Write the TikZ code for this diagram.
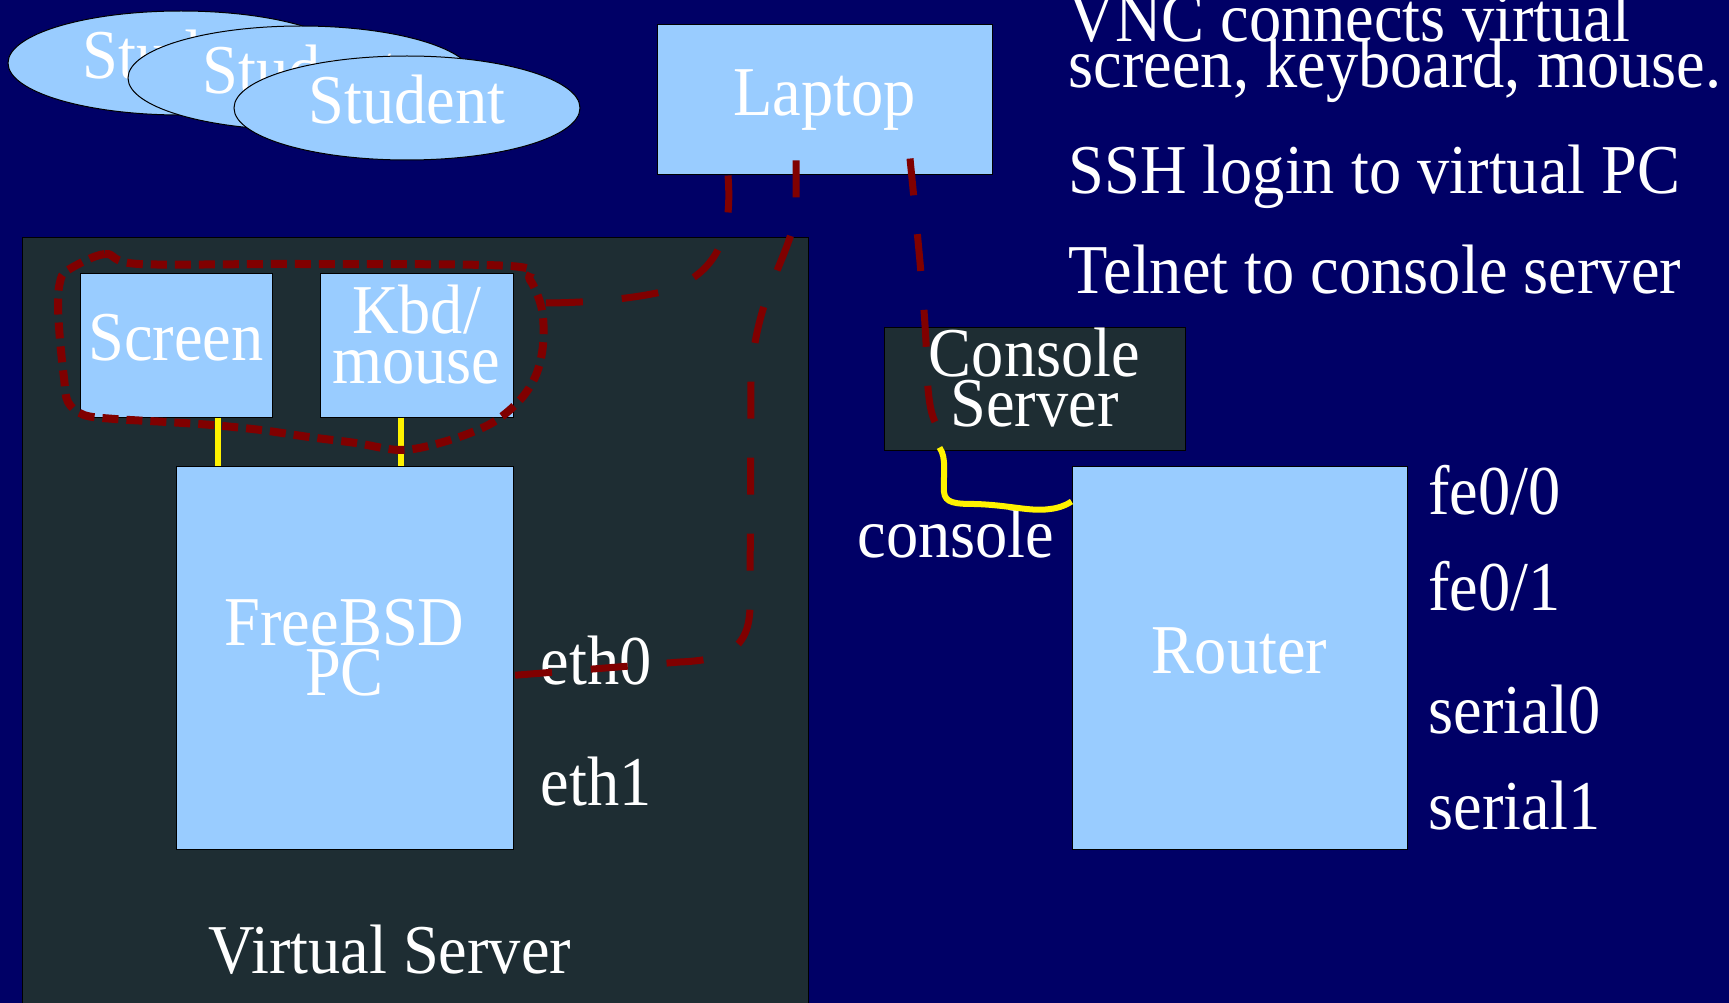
\documentclass[tikz,border=0pt]{standalone}
\usepackage{fontspec}
\setmainfont{Liberation Serif}[FakeStretch=0.92]
\usetikzlibrary{shapes.geometric}
\definecolor{navy}{RGB}{0,0,102}
\definecolor{slate}{RGB}{30,45,51}
\definecolor{pale}{RGB}{153,204,255}
\definecolor{wine}{RGB}{128,0,0}
\begin{document}
\begin{tikzpicture}[x=1pt,y=-1pt,
  every node/.style={font=\fontsize{70}{50}\selectfont,text=white},
  box/.style={draw=black,line width=1pt,fill=pale,inner sep=0pt,text height=46pt,text depth=15pt},
  darkbox/.style={box,fill=slate},
  twoline/.style={align=center,text height=96pt,text depth=20pt},
  stud/.style={ellipse,draw=black,line width=1pt,fill=pale,minimum width=346pt,minimum height=104pt,inner sep=0pt,text height=46pt,text depth=15pt},
  port/.style={anchor=base west},
  cable/.style={yellow,line width=6pt},
  vnc/.style={wine,line width=7pt,dash pattern=on 37pt off 39pt},
  loopline/.style={wine,line width=8pt,dash pattern=on 16pt off 8pt}]
\useasboundingbox (0,0) rectangle (1729,1003);
\clip (0,0) rectangle (1729,1003);
\fill[navy] (0,0) rectangle (1729,1003);

\node[darkbox,minimum width=786pt,minimum height=780pt] (vserver) at (415,627) {};
\node[port] (vslabel) at (205,973) {Virtual Server};

\node[stud] (stuA) at (181,63) {Student};
\node[stud] (stuB) at (301,78) {Student};
\node[stud] (stuC) at (407,108) {Student};

\node[box,minimum width=335pt,minimum height=150pt] (laptop) at (824.5,100) {Laptop};
\node[darkbox,twoline,minimum width=301pt,minimum height=123pt] (conserver) at (1034.5,388.5) {Console\\Server};
\node[box,minimum width=335pt,minimum height=383pt] (router) at (1239.5,657.5) {Router};
\node[box,minimum width=192pt,minimum height=144pt] (screen) at (176,345) {Screen};
\node[box,twoline,minimum width=193pt,minimum height=144pt] (kbd) at (416.5,345) {Kbd/\\mouse};
\node[box,twoline,minimum width=337pt,minimum height=383pt] (freebsd) at (344.5,657.5) {FreeBSD\\PC};

\node[port] (eth0) at (537,684) {eth0};\node[port] (eth1) at (537,805) {eth1};
\node[port] (fe00) at (1425,514) {fe0/0};\node[port] (fe01) at (1425,610) {fe0/1};
\node[port] (ser0) at (1425,733) {serial0};\node[port] (ser1) at (1425,829) {serial1};
\node[port] (conlabel) at (854,557) {console};

\node[port] (vnc1) at (1065,42) {VNC connects virtual};
\node[port] (vnc2) at (1065,88) {screen, keyboard, mouse.};
\node[port] (ssh) at (1065,194) {SSH login to virtual PC};
\node[port] (telnet) at (1065,293) {Telnet to console server};

\draw[cable] ([xshift=42pt]screen.south) -- ([xshift=42pt]screen.south |- freebsd.north);
\draw[cable] ([xshift=-16pt]kbd.south) -- ([xshift=-16pt]kbd.south |- freebsd.north);
\draw[cable] ([xshift=-95pt,yshift=3pt]conserver.south) .. controls (947,458) and (943,475) .. (944,492) .. controls (945,503) and (955,504) .. (975,504) .. controls (1010,505) and (1030,512) .. (1050,509) .. controls (1060,508) and (1068,504) .. ([yshift=-36pt]router.north west);

\coordinate (loopE) at (541,303);
\draw[loopline] plot[smooth cycle,tension=0.55] coordinates {(68,270) (105,254) (139,264) (300,264) (510,266) (530,280) (542,310) (543,345) (536,375) (520,400) (492,423) (450,440) (403,450) (356,443) (309,437) (261,430) (212,425) (167,422) (115,419) (84,415) (68,402) (64,378) (60,340) (58,305) (60,282)};

\draw[vnc] ([xshift=-96.5pt]laptop.south) .. controls (733,240) and (715,272) .. (670,290) .. controls (630,300) and (580,303) .. (loopE);
\draw[vnc] ([xshift=-28.5pt,yshift=15pt]laptop.south) -- (796,205) .. controls (796,250) and (755,290) .. (751,380) -- (750,605) .. controls (750,650) and (725,660) .. (680,662) -- ([xshift=-8pt,yshift=-18.5pt]freebsd.east);
\draw[vnc] ([xshift=85.5pt,yshift=17pt]laptop.south) .. controls (920,260) and (926,320) .. (927,370) .. controls (928,400) and (931,415) .. ([xshift=53pt,yshift=-36.5pt]conserver.west);
\end{tikzpicture}
\end{document}
